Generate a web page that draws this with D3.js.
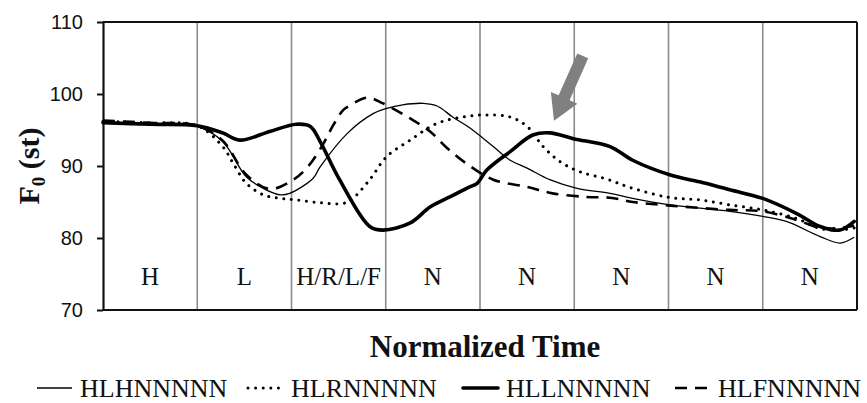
<!DOCTYPE html>
<html><head><meta charset="utf-8">
<script src="https://cdn.jsdelivr.net/npm/d3@7"></script>
<style>body{margin:0;background:#fff} svg{display:block}</style>
</head><body><svg id="c" width="867" height="403"></svg>
<script>
// ---- data ----
const segmentLabels = ["H", "L", "H/R/L/F", "N", "N", "N", "N", "N"];
const yTicks = [70, 80, 90, 100, 110];
const seriesNames = ["HLHNNNNN", "HLRNNNNN", "HLLNNNNN", "HLFNNNNN"];

const timeHLH = [0, 0.5, 1.0, 1.27, 1.52, 1.70, 1.88, 1.98, 2.23, 2.30, 2.59, 2.87, 3.01, 3.18, 3.40, 3.55, 3.71, 3.89, 4.14, 4.32, 4.50, 4.74, 5.03, 5.38, 5.62, 6.02, 6.65, 7.0, 7.25, 7.61, 7.82, 7.97];
const f0HLH   = [96.0, 95.8, 95.5, 93.4, 88.5, 86.9, 86.0, 86.2, 88.3, 89.8, 94.5, 97.3, 98.0, 98.5, 98.7, 98.3, 96.8, 95.3, 92.7, 90.8, 89.7, 88.1, 86.9, 86.2, 85.5, 84.6, 83.7, 83.0, 82.3, 80.2, 79.3, 80.1];

const timeHLR = [0, 0.5, 1.0, 1.27, 1.38, 1.52, 1.70, 1.88, 2.05, 2.30, 2.55, 2.65, 2.83, 3.01, 3.26, 3.54, 3.82, 4.07, 4.32, 4.50, 4.67, 4.85, 5.06, 5.34, 5.62, 6.02, 6.33, 6.65, 7.0, 7.36, 7.61, 7.82, 7.97];
const f0HLR   = [96.2, 96.0, 95.6, 92.7, 90.4, 87.6, 86.0, 85.5, 85.3, 84.9, 84.8, 85.5, 88.1, 91.3, 93.6, 95.9, 96.8, 97.1, 96.8, 95.5, 92.7, 90.6, 89.2, 88.2, 86.9, 85.6, 85.3, 84.6, 83.9, 82.7, 81.3, 81.1, 81.4];

const timeHLL = [0, 0.5, 1.0, 1.27, 1.45, 1.77, 2.05, 2.20, 2.30, 2.51, 2.83, 2.97, 3.26, 3.47, 3.68, 3.89, 3.97, 4.07, 4.32, 4.56, 4.74, 4.99, 5.38, 5.62, 6.02, 6.33, 6.65, 7.0, 7.36, 7.61, 7.82, 7.97];
const f0HLL   = [96.0, 95.8, 95.6, 94.6, 93.6, 94.8, 95.8, 95.5, 93.5, 88.1, 81.6, 81.1, 82.1, 84.3, 85.7, 87.1, 87.6, 89.4, 92.0, 94.3, 94.6, 93.8, 92.7, 90.8, 88.75, 87.8, 86.7, 85.5, 83.4, 81.6, 81.1, 82.3];

const timeHLF = [0, 0.5, 1.0, 1.27, 1.52, 1.77, 2.02, 2.18, 2.33, 2.44, 2.55, 2.62, 2.80, 2.97, 3.26, 3.47, 3.65, 3.86, 4.14, 4.50, 4.77, 5.13, 5.38, 5.62, 6.02, 6.65, 7.0, 7.36, 7.61, 7.82, 7.97];
const f0HLF   = [96.3, 96.0, 95.6, 93.5, 88.8, 86.8, 88.1, 90.0, 92.9, 95.6, 97.8, 98.4, 99.5, 98.7, 96.6, 94.8, 92.5, 90.3, 88.1, 87.1, 86.2, 85.7, 85.6, 85.0, 84.5, 83.9, 83.7, 82.5, 81.4, 81.4, 81.7];

// annotation arrow (data coords): tail, tip
const arrowTail = [5.09, 105.3];
const arrowTip  = [4.785, 96.3];

// ---- layout ----
const svg = d3.select("#c");
const L = 103, R = 857, T = 22, B = 310;
const x = d3.scaleLinear().domain([0, 8]).range([L, R]);
const y = d3.scaleLinear().domain([70, 110]).range([B, T]);

// vertical dividers
svg.append("g").selectAll("line").data(d3.range(1, 8)).join("line")
  .attr("x1", d => x(d)).attr("x2", d => x(d)).attr("y1", T).attr("y2", B)
  .attr("stroke", "#8a8a8a").attr("stroke-width", 1.6);

// frame top / right / bottom
svg.append("line").attr("x1", L).attr("x2", R).attr("y1", T).attr("y2", T).attr("stroke", "#111").attr("stroke-width", 2);
svg.append("line").attr("x1", R).attr("x2", R).attr("y1", T).attr("y2", B).attr("stroke", "#111").attr("stroke-width", 2);
svg.append("line").attr("x1", L).attr("x2", R).attr("y1", B).attr("y2", B).attr("stroke", "#111").attr("stroke-width", 2.2);

// y axis
const yAxis = svg.append("g").attr("transform", `translate(${L},0)`)
  .call(d3.axisLeft(y).tickValues(yTicks).tickSize(6).tickPadding(14).tickSizeOuter(0));
yAxis.select(".domain").attr("stroke", "#111").attr("stroke-width", 2.2);
yAxis.selectAll(".tick line").attr("stroke", "#111").attr("stroke-width", 2);
yAxis.selectAll("text").attr("font-family", "'Liberation Sans', Arial, sans-serif").attr("font-size", 20).attr("fill", "#111");

// segment labels
svg.append("g").selectAll("text").data(segmentLabels).join("text")
  .attr("x", (d, i) => x(i + 0.5)).attr("y", y(73.5))
  .attr("text-anchor", "middle")
  .attr("font-family", "'Liberation Serif', 'Times New Roman', serif").attr("font-size", 25).attr("fill", "#111")
  .text(d => d);

// series
const styles = [
  {w: 1.3, dash: null, cap: "butt"},
  {w: 3.0, dash: "0.01 7.6", cap: "round"},
  {w: 3.6, dash: null, cap: "round"},
  {w: 2.6, dash: "12 8", cap: "butt"}
];
const series = [
  {name: seriesNames[0], t: timeHLH, v: f0HLH, s: styles[0]},
  {name: seriesNames[1], t: timeHLR, v: f0HLR, s: styles[1]},
  {name: seriesNames[3], t: timeHLF, v: f0HLF, s: styles[3]},
  {name: seriesNames[2], t: timeHLL, v: f0HLL, s: styles[2]}
];
const line = d3.line().x(d => x(d[0])).y(d => y(d[1])).curve(d3.curveCatmullRom.alpha(0.5));
series.forEach(sr => {
  const pts = sr.t.map((t, i) => [t, sr.v[i]]);
  svg.append("path").attr("d", line(pts)).attr("fill", "none")
    .attr("stroke", "#000").attr("stroke-width", sr.s.w)
    .attr("stroke-linecap", sr.s.cap).attr("stroke-linejoin", "round")
    .attr("stroke-dasharray", sr.s.dash);
});

// arrow annotation
(function () {
  const tx = x(arrowTail[0]), ty = y(arrowTail[1]);
  const px = x(arrowTip[0]), py = y(arrowTip[1]);
  const len = Math.hypot(px - tx, py - ty);
  const ux = (px - tx) / len, uy = (py - ty) / len;
  const nx = -uy, ny = ux;
  const sw = 6, hw = 14.5, hl = 25;
  const bx = px - ux * hl, by = py - uy * hl;
  const pts = [
    [tx + nx * sw, ty + ny * sw], [bx + nx * sw, by + ny * sw], [bx + nx * hw, by + ny * hw],
    [px, py],
    [bx - nx * hw, by - ny * hw], [bx - nx * sw, by - ny * sw], [tx - nx * sw, ty - ny * sw]
  ];
  svg.append("path").attr("d", "M" + pts.map(p => p.join(",")).join("L") + "Z").attr("fill", "#808080");
})();

// y title
const yt = svg.append("text").attr("transform", `translate(39,${(T + B) / 2}) rotate(-90)`)
  .attr("text-anchor", "middle")
  .attr("font-family", "'Liberation Serif', 'Times New Roman', serif").attr("font-weight", "bold")
  .attr("font-size", 30).attr("fill", "#111");
yt.append("tspan").text("F");
yt.append("tspan").attr("font-size", 19).attr("dy", 6).text("0");
yt.append("tspan").attr("dy", -6).text(" (st)");

// x title
svg.append("text").attr("x", 485).attr("y", 357).attr("text-anchor", "middle")
  .attr("font-family", "'Liberation Serif', 'Times New Roman', serif").attr("font-weight", "bold")
  .attr("font-size", 31).attr("fill", "#111").text("Normalized Time");

// legend
const legendX = [37, 248, 463, 675];
seriesNames.forEach((name, k) => {
  const g = svg.append("g");
  g.append("line").attr("x1", legendX[k]).attr("x2", legendX[k] + 35).attr("y1", 388).attr("y2", 388)
    .attr("stroke", "#000").attr("stroke-width", styles[k].w)
    .attr("stroke-linecap", styles[k].cap).attr("stroke-dasharray", styles[k].dash);
  g.append("text").attr("x", legendX[k] + 43).attr("y", 397)
    .attr("font-family", "'Liberation Serif', 'Times New Roman', serif").attr("font-size", 26).attr("fill", "#111")
    .text(name);
});
</script></body></html>
